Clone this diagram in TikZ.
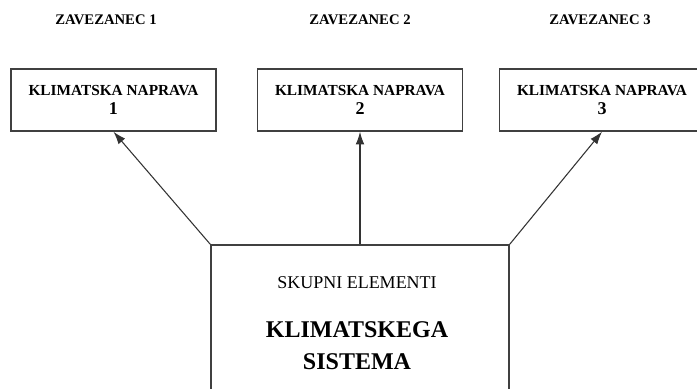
\documentclass[tikz,border=0pt]{standalone}
\usepackage{fontspec}
\setmainfont{Liberation Serif}
\usetikzlibrary{arrows.meta}

\tikzset{
  zavezanec/.style={font=\bfseries\fontsize{11}{13}\selectfont},
  naprava/.style={draw=black!75, line width=1.1pt, fill=white,
    minimum width=153.75pt, minimum height=46.5pt, align=center,
    font=\bfseries\fontsize{11.5}{14.2}\selectfont},
  skupni/.style={draw=black!75, line width=1.1pt,
    minimum width=223.5pt, minimum height=131.25pt},
  povezava/.style={draw=black!80, line width=0.8pt, -{Latex[length=9.5pt,width=6.5pt]}}
}
\newcommand{\stevka}[1]{{\fontsize{13.5}{14.2}\selectfont #1}}

\begin{document}
\begin{tikzpicture}[x=0.75pt, y=0.75pt]
			%%%%% START %%%%%
			\useasboundingbox (0, 0) rectangle (697, 389);
			\clip (0, 0) rectangle (697, 389);
			
			\node[zavezanec] (zav1) at (106, 369) {ZAVEZANEC 1};
			\node[zavezanec] (zav2) at (360, 369) {ZAVEZANEC 2};
			\node[zavezanec] (zav3) at (600, 369) {ZAVEZANEC 3};
			
			\node[naprava] (nap1) at (113.5, 289) {KLIMATSKA NAPRAVA\\\stevka{1}};
			\node[naprava] (nap2) at (360, 289) {KLIMATSKA NAPRAVA\\\stevka{2}};
			\node[naprava] (nap3) at (602, 289) {KLIMATSKA NAPRAVA\\\stevka{3}};
			
			\node[skupni] (sis) at (360, 56.5) {};
			\node[font=\fontsize{13.5}{16}\selectfont] (ele) at (357, 106) {SKUPNI ELEMENTI};
			\node[font=\bfseries\fontsize{18}{24}\selectfont, align=center] (ime) at (357, 43) {KLIMATSKEGA\\SISTEMA};
			
			\draw[povezava] (sis.north west) -- (nap1.south);
			\draw[povezava] (sis.north) -- (nap2.south);
			\draw[povezava] (sis.north east) -- (nap3.south);
			
			%%%%% END %%%%%
\end{tikzpicture}
\end{document}
